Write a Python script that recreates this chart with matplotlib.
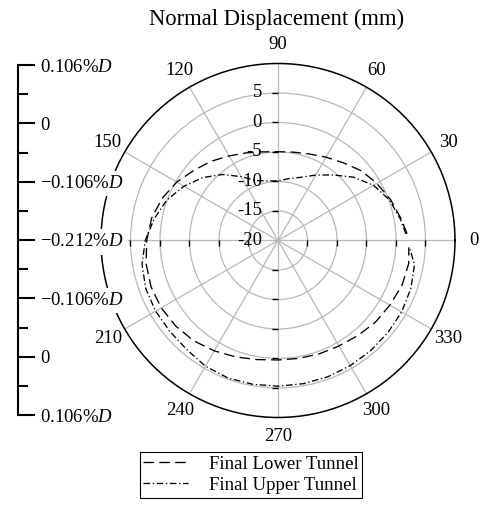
import numpy as np
import matplotlib
matplotlib.use("Agg")
import matplotlib.pyplot as plt
from matplotlib.transforms import offset_copy
from matplotlib.lines import Line2D

plt.rcParams['font.family'] = ['Liberation Serif', 'DejaVu Serif']
plt.rcParams['mathtext.fontset'] = 'custom'
plt.rcParams['mathtext.rm'] = 'Liberation Serif'
plt.rcParams['mathtext.it'] = 'Liberation Serif:italic'

# Normal displacement (mm) around the tunnel lining, by angle (degrees)
angles_deg = [3, 10, 20, 30, 40, 50, 60, 70, 80, 90, 100, 110, 120, 130, 140,
              150, 160, 170, 180, 190, 200, 210, 220, 230, 240, 250, 260, 270,
              280, 290, 300, 310, 320, 330, 340, 350, 357]
lower_tunnel = [1.9, 1.2, 0.3, -0.65, -1.6, -2.8, -3.7, -4.4, -4.8, -4.95, -4.75,
                -4.2, -3.45, -2.45, -1.45, -0.2, 0.9, 1.75, 2.25, 2.7, 2.9, 2.85,
                2.6, 2.2, 1.6, 1.0, 0.5, 0.25, 0.3, 0.45, 0.65, 1.05, 1.55, 1.9,
                2.35, 2.5, 2.2]
upper_tunnel = [1.7, 1.05, 0.1, -1.3, -3.3, -5.5, -7.2, -8.6, -9.35, -9.9, -9.75,
                -9.2, -7.5, -5.4, -3.4, -1.6, 0.05, 1.3, 2.5, 3.4, 3.85, 3.95,
                3.95, 4.1, 4.6, 4.8, 4.75, 4.7, 4.65, 4.6, 4.5, 4.4, 4.3, 4.2,
                3.95, 3.5, 2.3]
series_names = ["Final Lower Tunnel", "Final Upper Tunnel"]

r_min, r_max = -20, 10
r_grid = [-15, -10, -5, 0, 5]
r_label_values = [-20, -15, -10, -5, 0, 5]
theta_ticks = list(range(0, 360, 30))
# the 180 position is taken by the strain scale label
theta_labels = ["" if t == 180 else str(t) for t in theta_ticks]

# Strain scale beside the plot (top half mirrors bottom half)
side_ticks = [0, 10, 20, 30, 40, 50, 60]
side_minor = [5, 15, 25, 35, 45, 55]
side_labels = ["0.106%$D$", "0", "\u22120.106%$D$", "\u22120.212%$D$",
               "\u22120.106%$D$", "0", "0.106%$D$"]

FS = 13.5

fig = plt.figure(figsize=(4.8, 5.05), dpi=100)

ax = fig.add_axes([0.2104, 0.1733, 0.7375, 0.701], projection='polar')
ax.set_ylim(r_min, r_max)
ax.set_xticks(np.deg2rad(theta_ticks))
ax.set_xticklabels(theta_labels)
ax.set_yticks(r_grid)
ax.set_yticklabels([])
ax.grid(True, color='#b8b8b8', lw=0.9)
ax.spines['polar'].set_linewidth(1.1)
ax.tick_params(axis='x', direction='inout', length=7, width=0.9, pad=3.5,
               labelsize=FS, colors='k')
ax.tick_params(axis='y', length=0)

# radial tick marks along the four principal directions
for ang, mk in [(0.0, 3), (np.pi, 3), (np.pi / 2, 0), (3 * np.pi / 2, 0)]:
    ax.plot([ang] * len(r_grid), r_grid, ls='none', marker=mk, ms=4.5,
            mew=1.0, color='k', clip_on=False, zorder=3)

# radial value labels along 90 degrees
lab_tr = offset_copy(ax.transData, fig=fig, x=-11.5, y=0, units='points')
for rv in r_label_values:
    ax.text(np.pi / 2, rv, str(rv), transform=lab_tr, ha='right', va='center',
            fontsize=FS, zorder=4)

th = np.deg2rad(angles_deg)
l1, = ax.plot(th, lower_tunnel, color='k', lw=0.95, ls=(0, (8, 4)), zorder=5)
l2, = ax.plot(th, upper_tunnel, color='k', lw=0.95, ls=(0, (5, 2, 1, 2)), zorder=5)

fig.text(277 / 480, 1 - 19 / 505, "Normal Displacement (mm)", ha='center',
         va='center', fontsize=16.3)

# side scale
ax2 = fig.add_axes([18 / 480, 1 - 415 / 505, 0.0, 350 / 505])
ax2.set_zorder(ax.get_zorder() + 1)
ax2.patch.set_visible(False)
for s in ['left', 'top', 'bottom']:
    ax2.spines[s].set_visible(False)
ax2.spines['right'].set_linewidth(1.5)
ax2.set_ylim(0, 60)
ax2.set_xticks([])
ax2.yaxis.tick_right()
ax2.set_yticks(side_ticks)
ax2.set_yticks(side_minor, minor=True)
ax2.set_yticklabels(side_labels)
ax2.tick_params(axis='y', which='major', direction='out', length=12.5, width=1.5,
                pad=3.5, labelsize=FS)
ax2.tick_params(axis='y', which='minor', direction='out', length=7, width=1.5)
for t in ax2.get_yticklabels():
    t.set_bbox(dict(facecolor='white', edgecolor='none', pad=3))

leg = fig.legend([l1, l2], series_names, loc='upper center',
                 bbox_to_anchor=(251 / 480, 1 - 452 / 505), frameon=True,
                 fancybox=False, edgecolor='k', framealpha=1, borderpad=0.2,
                 handlelength=2.4, handletextpad=1.1, labelspacing=0.2,
                 fontsize=FS, borderaxespad=0)
leg.get_frame().set_linewidth(0.8)

fig.savefig("out.png", dpi=100)
